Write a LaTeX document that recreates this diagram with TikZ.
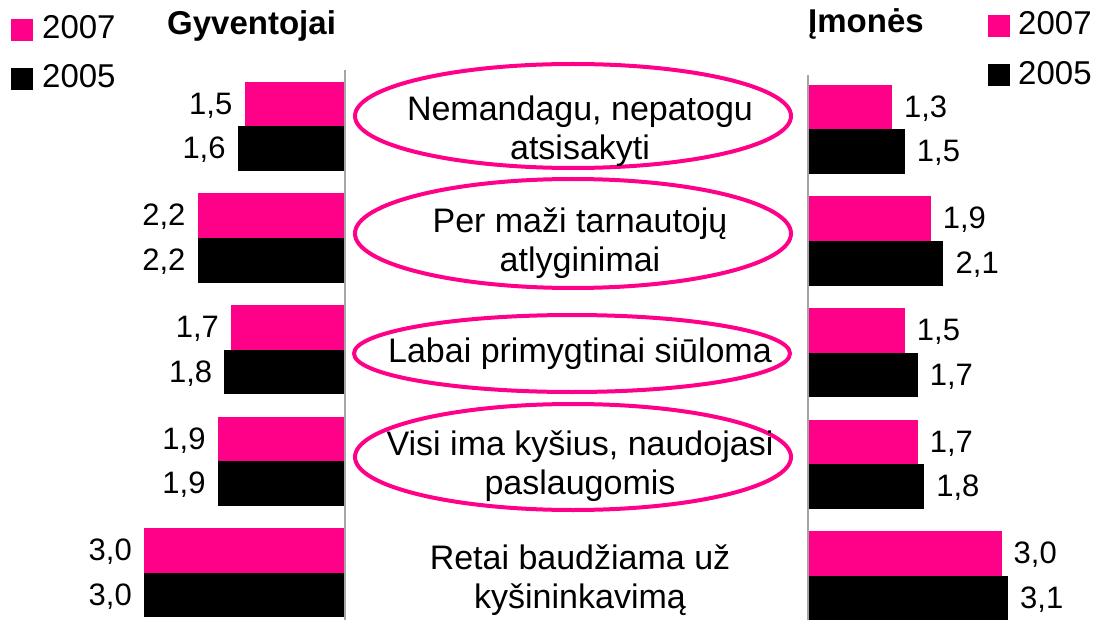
\documentclass[tikz,border=0pt]{standalone}
\usepackage{fontspec}
\setmainfont{Liberation Sans}
\usepackage{tikz}
\usetikzlibrary{positioning}
\definecolor{barpink}{RGB}{255,0,136}
\definecolor{axisgray}{RGB}{165,165,165}

\begin{document}
\begin{tikzpicture}[x=1pt,y=-1pt,
      val/.style={inner sep=0pt,font=\fontsize{31}{36}\selectfont},
      cat/.style={inner sep=0pt,align=center,font=\fontsize{34}{39}\selectfont},
      head/.style={inner sep=0pt,font=\fontsize{33}{38}\selectfont\bfseries},
      leg/.style={inner sep=0pt,font=\fontsize{33}{38}\selectfont},
      legbox/.style={inner sep=0pt,minimum width=22pt,minimum height=22pt},
      oval/.style={draw=barpink,line width=4pt}]

    \useasboundingbox (0,0) rectangle (1094,620);

    \node[legbox,fill=barpink] (l07) at (22,30) {};
    \node[legbox,fill=black] (l05) at (22,79) {};
    \node[leg,anchor=base west] (lt07) at (42,39) {2007};
    \node[leg,anchor=base west] (lt05) at (42,88) {2005};
    \node[head,anchor=base west] (gyv) at (167,35) {Gyventojai};

    \node[legbox,fill=barpink] (r07) at (999,26.5) {};
    \node[legbox,fill=black] (r05) at (999,75.5) {};
    \node[leg,anchor=base west] (rt07) at (1018,35) {2007};
    \node[leg,anchor=base west] (rt05) at (1018,85) {2005};
    \node[head,anchor=base west] (imo) at (808,33) {Įmonės};

    \draw[axisgray,line width=2pt] (345,70) -- (345,620);
    \draw[axisgray,line width=2pt] (808,75) -- (808,620);

    % Gyventojai
    \foreach \i/\a/\b/\la/\lb in {0/1.5/1.6/{1,5}/{1,6}, 1/2.2/2.2/{2,2}/{2,2},
        2/1.7/1.8/{1,7}/{1,8}, 3/1.9/1.9/{1,9}/{1,9}, 4/3.0/3.0/{3,0}/{3,0}}{
      \pgfmathsetmacro{\ytop}{82+111.5*\i}
      \fill[barpink] (345-67*\a,\ytop) rectangle (344,\ytop+44.5);
      \fill[black] (345-67*\b,\ytop+44.5) rectangle (344,\ytop+89);
      \node[val,anchor=base east] (ga\i) at (345-67*\a-12,\ytop+32.5) {\la};
      \node[val,anchor=base east] (gb\i) at (345-67*\b-12,\ytop+77) {\lb};
    }

    % Imones
    \foreach \i/\a/\b/\la/\lb in {0/1.3/1.5/{1,3}/{1,5}, 1/1.9/2.1/{1,9}/{2,1},
        2/1.5/1.7/{1,5}/{1,7}, 3/1.7/1.8/{1,7}/{1,8}, 4/3.0/3.1/{3,0}/{3,1}}{
      \pgfmathsetmacro{\ytop}{85+111.5*\i}
      \fill[barpink] (809,\ytop) rectangle (808+64.5*\a,\ytop+44.5);
      \fill[black] (809,\ytop+44.5) rectangle (808+64.5*\b,\ytop+89);
      \node[val,anchor=base west] (ia\i) at (808+64.5*\a+12,\ytop+32.5) {\la};
      \node[val,anchor=base west] (ib\i) at (808+64.5*\b+12,\ytop+77) {\lb};
    }

    \draw[oval] (573,116) ellipse [x radius=218pt, y radius=52pt];
    \draw[oval] (573,233.5) ellipse [x radius=218pt, y radius=54.5pt];
    \draw[oval] (572,353.5) ellipse [x radius=218pt, y radius=38.5pt];
    \draw[oval] (573,457) ellipse [x radius=218pt, y radius=53pt];

    \node[cat] (c1) at (580,131.5) {Nemandagu, nepatogu\\atsisakyti};
    \node[cat] (c2) at (580,243.5) {Per maži tarnautojų\\atlyginimai};
    \node[cat] (c3) at (580,354) {Labai primygtinai siūloma};
    \node[cat] (c4) at (580,466.5) {Visi ima kyšius, naudojasi\\paslaugomis};
    \node[cat] (c5) at (580,580.5) {Retai baudžiama už\\kyšininkavimą};
    \end{tikzpicture}
\end{document}
